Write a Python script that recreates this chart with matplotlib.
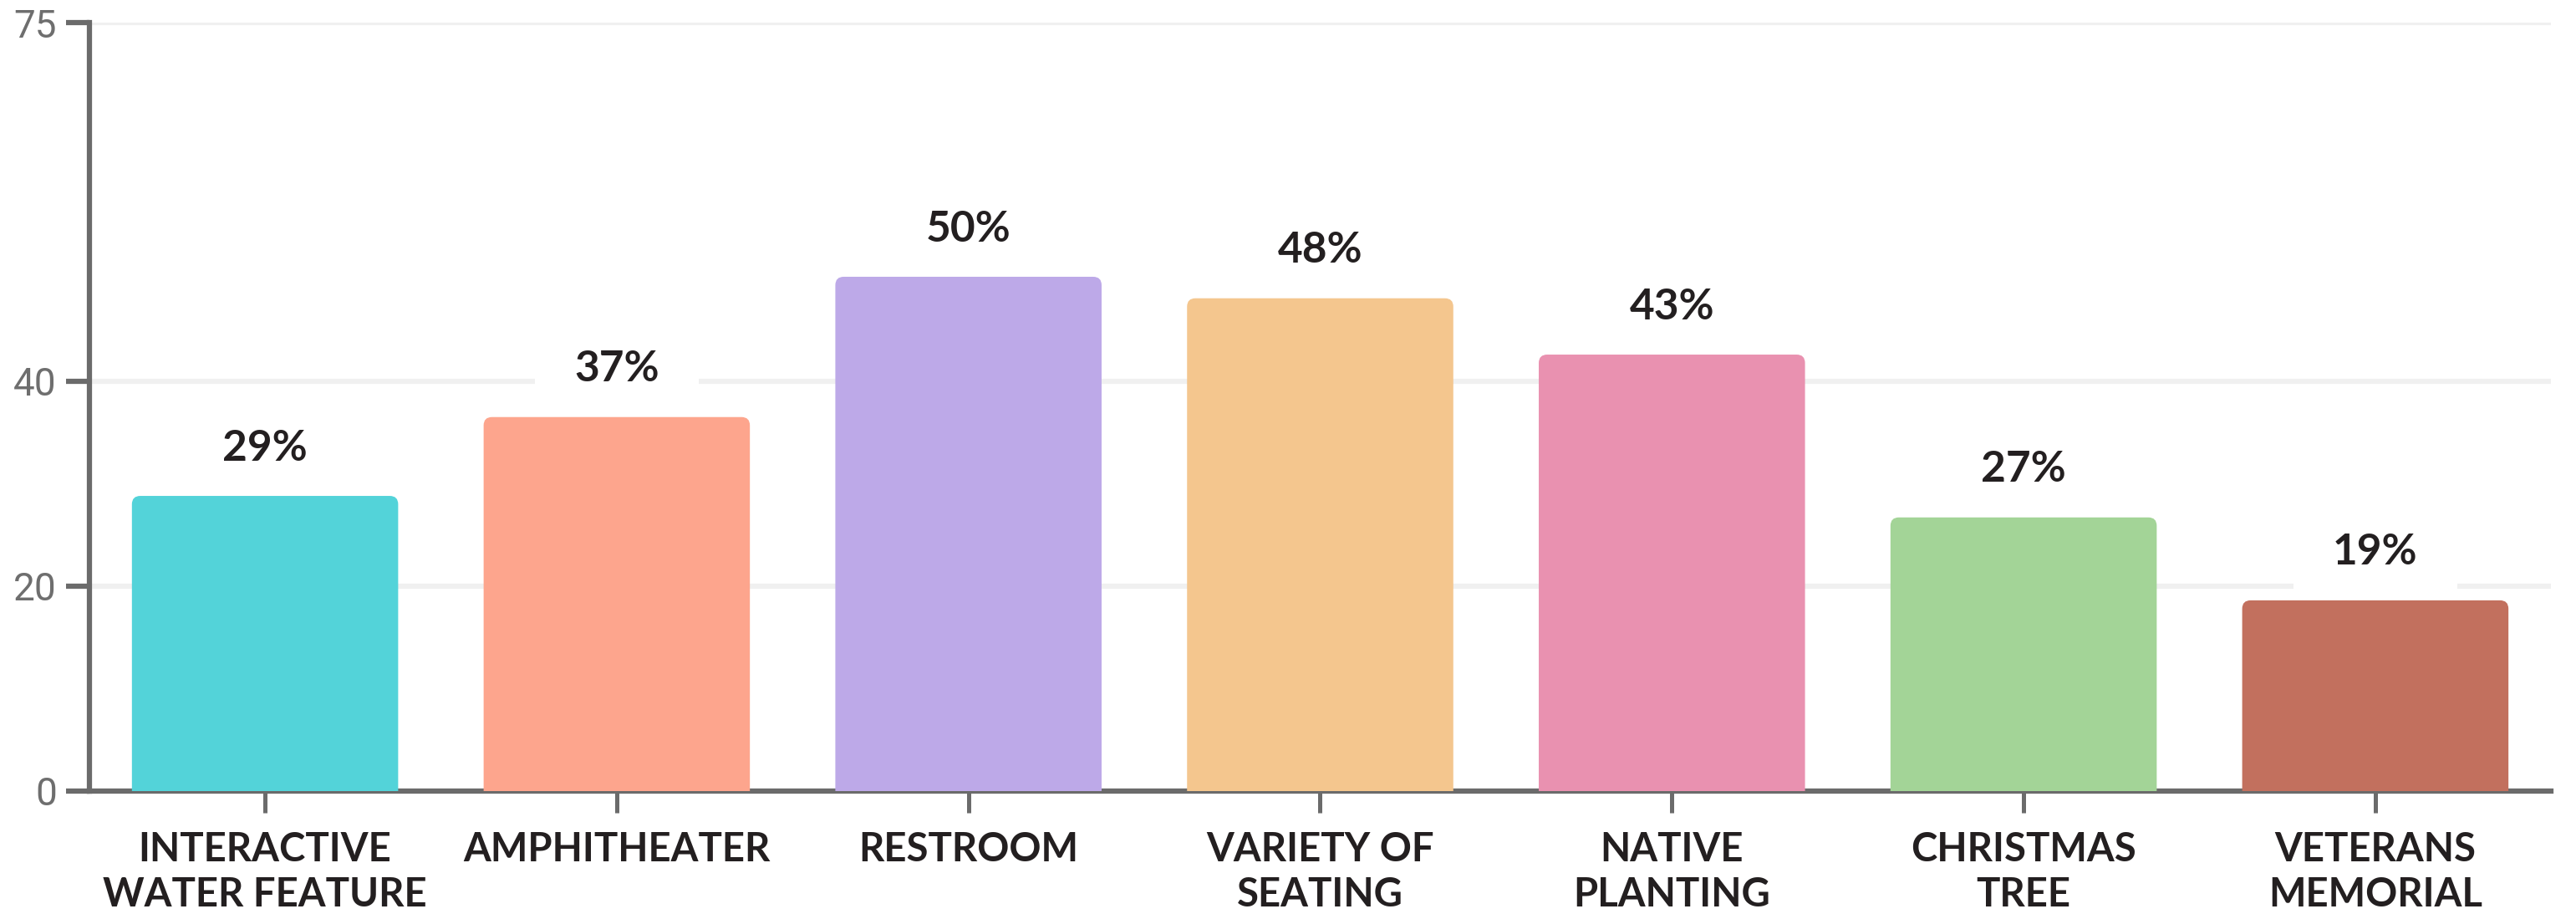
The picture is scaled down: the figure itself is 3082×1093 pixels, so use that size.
import numpy as np
import matplotlib.pyplot as plt
from matplotlib.patches import FancyBboxPatch, Rectangle

# data
categories = ["INTERACTIVE\nWATER FEATURE", "AMPHITHEATER", "RESTROOM",
              "VARIETY OF\nSEATING", "NATIVE\nPLANTING", "CHRISTMAS\nTREE",
              "VETERANS\nMEMORIAL"]
values = [28.8, 36.5, 50.2, 48.1, 42.6, 26.7, 18.6]
labels = ["29%", "37%", "50%", "48%", "43%", "27%", "19%"]
colors = ["#53D3D9", "#FDA58D", "#BDA9E8", "#F4C68E", "#E991B0", "#A3D497", "#C2705E"]
yticks = [0, 20, 40, 75]

fig = plt.figure(figsize=(30.82, 10.93), dpi=100)
ax = fig.add_axes([0.03462, 0.13477, 0.95574, 0.84026])

x = np.arange(len(values))
bars = ax.bar(x, values, width=0.757, color=colors, zorder=3)

# rounded tops: redraw each bar as a rounded box that starts below the axis
px_x = 420.55
px_y = 12.245
asp = px_x / px_y
r = 10 / px_x
for b, c in zip(bars, colors):
    b.set_visible(False)
    p = FancyBboxPatch((b.get_x() + r, -2 + r * asp), b.get_width() - 2 * r,
                       b.get_height() + 2 - 2 * r * asp,
                       boxstyle="round,pad=%f,rounding_size=%f" % (r, r),
                       mutation_aspect=asp, fc=c, ec="none", zorder=3)
    ax.add_patch(p)

# value labels with a white backing that hides the gridlines
for xi, v, lab in zip(x, values, labels):
    ax.add_patch(Rectangle((xi - 0.233, v), 0.466, 7.6, fc="white", ec="none",
                           zorder=2))
    ax.annotate(lab, (xi, v), xytext=(0, 41), textcoords="offset points",
                ha="center", va="center", fontsize=37, fontweight="bold",
                color="#231F20", family="Lato", zorder=4)

ax.set_xlim(-0.5, 6.5)
ax.set_ylim(0, 75)
ax.set_yticks(yticks)
ax.set_yticklabels([str(t) for t in yticks], fontsize=33, color="#6E6E6E",
                   family="Roboto")
ax.set_xticks(x)
ax.set_xticklabels(categories, fontsize=34, fontweight="bold", color="#231F20",
                   family="Lato", va="top", linespacing=1.27)

ax.yaxis.grid(True, color="#F0F0F0", linewidth=4.5, zorder=0)
ax.set_axisbelow(True)
for s in ["top", "right"]:
    ax.spines[s].set_visible(False)
for s in ["left", "bottom"]:
    ax.spines[s].set_color("#6B6B6B")
    ax.spines[s].set_linewidth(4.5)
ax.tick_params(axis="y", length=20, width=4.5, color="#6B6B6B", pad=8)
ax.tick_params(axis="x", length=19, width=3.6, color="#6B6B6B", pad=16)

fig.savefig("out.png", dpi=100, facecolor="white")
